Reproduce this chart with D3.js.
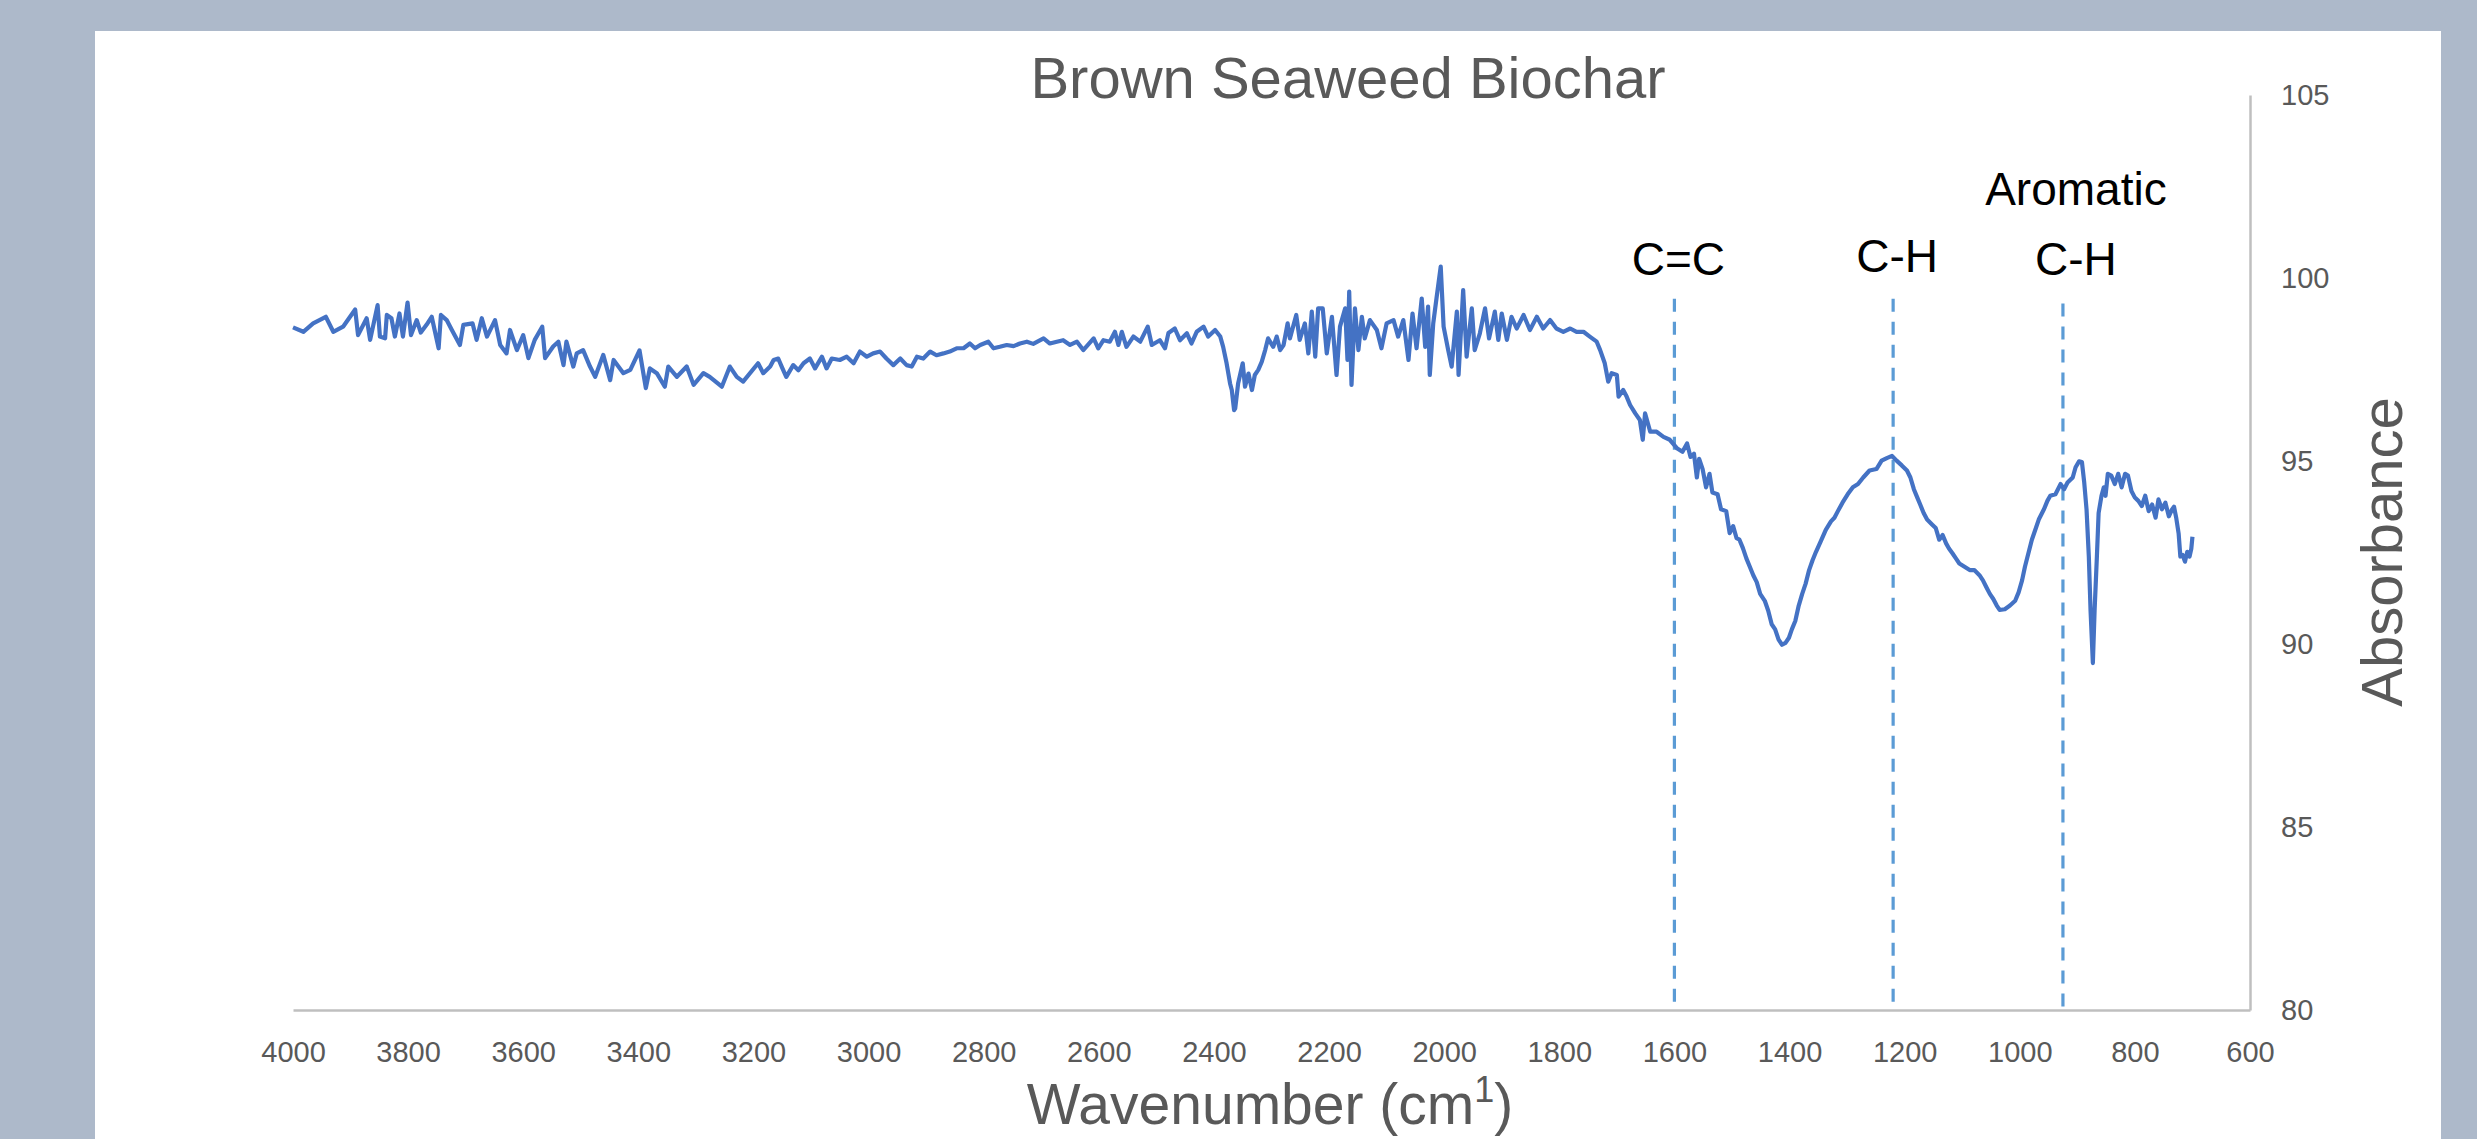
<!DOCTYPE html>
<html>
<head>
<meta charset="utf-8">
<script src="https://cdn.jsdelivr.net/npm/d3@7"></script>
<style>
    body { margin: 0; background: #adb9ca; }
    svg { display: block; }
</style>
</head>
<body>
<script>
// FTIR spectrum (wavenumber cm-1 / absorbance)
const wavenumber = [
    // 4000 - 3170
    4000, 3982, 3965, 3943, 3930, 3913, 3892, 3887, 3872, 3866, 3853, 3849, 3840, 3837, 3829, 3823,
    3815, 3809, 3801, 3795, 3785, 3778, 3768, 3759, 3747, 3743, 3733, 3724, 3710, 3704, 3688, 3681,
    3672, 3663, 3649, 3640, 3629, 3623, 3611, 3600, 3591, 3580, 3567, 3562, 3548, 3539, 3530, 3525,
    3513, 3507, 3496, 3484, 3475, 3461, 3449, 3443, 3426, 3414, 3398, 3387, 3380, 3368, 3354, 3348,
    3333, 3316, 3304, 3287, 3276, 3255, 3241, 3229, 3218, 3192, 3183, 3171,
    // 3165 - 2365
    3165, 3157, 3151, 3143, 3131, 3122, 3113, 3102, 3093, 3081, 3073, 3064, 3050, 3038, 3026, 3015,
    3003, 2992, 2980, 2969, 2957, 2945, 2934, 2925, 2916, 2905, 2893, 2882, 2870, 2859, 2847, 2835,
    2824, 2815, 2806, 2792, 2783, 2772, 2760, 2748, 2737, 2725, 2714, 2696, 2685, 2673, 2662, 2650,
    2638, 2627, 2609, 2601, 2592, 2581, 2572, 2566, 2560, 2552, 2540, 2528, 2515, 2508, 2494, 2485,
    2479, 2468, 2459, 2447, 2439, 2430, 2418, 2410, 2398, 2389, 2384, 2378, 2372, 2369, 2365,
    // 2363 - 1608
    2363, 2358, 2350, 2346, 2340, 2334, 2329, 2323, 2317, 2311, 2306, 2297, 2291, 2285, 2279, 2272,
    2268, 2257, 2251, 2242, 2236, 2230, 2224, 2219, 2211, 2204, 2195, 2187, 2181, 2172, 2168, 2165,
    2161, 2155, 2149, 2143, 2138, 2129, 2117, 2109, 2100, 2088, 2080, 2071, 2062, 2055, 2048, 2039,
    2033, 2028, 2025, 2019, 2013, 2006, 2001, 1993, 1987, 1978, 1975, 1967, 1961, 1952, 1947, 1938,
    1929, 1922, 1912, 1906, 1900, 1891, 1883, 1874, 1862, 1851, 1839, 1828, 1816, 1805, 1793, 1781,
    1770, 1758, 1747, 1735, 1729, 1721, 1715, 1709, 1700, 1697, 1689, 1683, 1677, 1668, 1660, 1655,
    1651, 1642, 1631, 1619, 1608,
    // 1595 - 741
    1595, 1586, 1578, 1572, 1566, 1561, 1557, 1551, 1545, 1539, 1534, 1525, 1519, 1510, 1504, 1498,
    1492, 1487, 1481, 1475, 1469, 1463, 1457, 1451, 1443, 1437, 1431, 1425, 1419, 1413, 1407, 1401,
    1396, 1390, 1384, 1378, 1372, 1366, 1360, 1354, 1346, 1337, 1328, 1322, 1316, 1308, 1299, 1290,
    1281, 1272, 1261, 1249, 1240, 1231, 1222, 1214, 1205, 1196, 1190, 1184, 1178, 1173, 1167, 1161,
    1152, 1146, 1140, 1134, 1128, 1123, 1117, 1111, 1105, 1096, 1087, 1079, 1070, 1064, 1058, 1052,
    1046, 1040, 1035, 1026, 1017, 1008, 1002, 996, 991, 985, 979, 973, 967, 958, 952, 947,
    938, 929, 923, 917, 908, 903, 897, 892, 888, 884, 880, 877, 873, 870, 866, 863,
    858, 854, 851, 847, 841, 835, 829, 823, 817, 812, 806, 800, 794, 788, 782, 776,
    770, 764, 759, 753, 747, 741,
    // 736 - 700
    736, 732, 728, 724, 721, 717, 713, 709, 705, 702, 700
];

const absorbance = [
    98.65, 98.53, 98.76, 98.94, 98.53, 98.67, 99.14, 98.44, 98.90, 98.31, 99.26, 98.40, 98.35, 98.99, 98.90, 98.40,
    99.03, 98.40, 99.33, 98.44, 98.85, 98.51, 98.72, 98.94, 98.08, 98.99, 98.85, 98.58, 98.17, 98.72, 98.76, 98.31,
    98.90, 98.40, 98.85, 98.17, 97.94, 98.58, 98.03, 98.44, 97.81, 98.31, 98.67, 97.81, 98.13, 98.26, 97.62, 98.26,
    97.58, 97.94, 98.03, 97.58, 97.30, 97.90, 97.21, 97.76, 97.40, 97.49, 98.02, 96.99, 97.53, 97.40, 97.03, 97.58,
    97.30, 97.58, 97.08, 97.40, 97.30, 97.03, 97.58, 97.30, 97.17, 97.67, 97.40, 97.58,

    97.76, 97.80, 97.58, 97.30, 97.62, 97.48, 97.67, 97.80, 97.53, 97.85, 97.53, 97.80, 97.76, 97.85, 97.67, 97.99,
    97.85, 97.94, 97.99, 97.80, 97.62, 97.80, 97.62, 97.58, 97.85, 97.80, 97.99, 97.89, 97.94, 97.99, 98.08, 98.08,
    98.21, 98.08, 98.17, 98.26, 98.08, 98.12, 98.17, 98.14, 98.21, 98.26, 98.20, 98.35, 98.21, 98.26, 98.30, 98.17,
    98.26, 98.03, 98.35, 98.08, 98.30, 98.26, 98.53, 98.17, 98.53, 98.12, 98.40, 98.26, 98.67, 98.17, 98.30, 98.08,
    98.50, 98.62, 98.30, 98.49, 98.21, 98.53, 98.67, 98.40, 98.58, 98.40, 98.12, 97.67, 97.12, 96.94, 96.39,

    96.44, 97.12, 97.67, 97.03, 97.39, 96.94, 97.35, 97.49, 97.71, 98.03, 98.35, 98.12, 98.40, 98.03, 98.17, 98.76,
    98.35, 98.99, 98.31, 98.76, 97.94, 99.08, 97.85, 99.17, 99.17, 97.94, 98.94, 97.35, 98.67, 99.17, 97.76, 99.63,
    97.08, 99.17, 98.03, 98.94, 98.35, 98.85, 98.58, 98.08, 98.76, 98.85, 98.40, 98.85, 97.76, 99.03, 98.08, 99.44,
    98.12, 99.22, 97.35, 98.76, 99.49, 100.31, 98.67, 98.03, 97.58, 99.08, 97.35, 99.67, 97.85, 99.17, 98.03, 98.49,
    99.17, 98.35, 99.08, 98.31, 99.03, 98.31, 98.94, 98.62, 98.99, 98.58, 98.94, 98.62, 98.85, 98.62, 98.53, 98.62,
    98.53, 98.53, 98.40, 98.26, 98.03, 97.67, 97.17, 97.40, 97.35, 96.76, 96.94, 96.76, 96.53, 96.30, 96.12, 95.58,
    96.30, 95.80, 95.80, 95.66, 95.58,

    95.34, 95.25, 95.48, 95.11, 95.20, 94.55, 95.06, 94.78, 94.28, 94.65, 94.14, 94.09, 93.68, 93.63, 93.03, 93.22,
    92.89, 92.85, 92.62, 92.34, 92.11, 91.88, 91.69, 91.37, 91.18, 90.91, 90.54, 90.40, 90.12, 89.98, 90.03, 90.17,
    90.40, 90.63, 91.05, 91.37, 91.65, 92.02, 92.29, 92.52, 92.80, 93.12, 93.35, 93.45, 93.63, 93.86, 94.09, 94.28,
    94.37, 94.55, 94.74, 94.78, 95.01, 95.08, 95.14, 95.01, 94.88, 94.74, 94.55, 94.23, 94.00, 93.81, 93.58, 93.40,
    93.26, 93.17, 92.85, 92.98, 92.75, 92.61, 92.48, 92.34, 92.20, 92.11, 92.02, 92.02, 91.88, 91.74, 91.55, 91.37,
    91.23, 91.05, 90.93, 90.95, 91.05, 91.18, 91.41, 91.74, 92.11, 92.48, 92.85, 93.12, 93.40, 93.68, 93.91, 94.05,
    94.09, 94.37, 94.23, 94.41, 94.55, 94.83, 94.99, 94.97, 94.41, 93.68, 92.39, 90.91, 89.48, 90.91, 92.39, 93.58,
    94.05, 94.28, 94.05, 94.65, 94.60, 94.37, 94.65, 94.28, 94.65, 94.60, 94.18, 94.00, 93.91, 93.77, 94.05, 93.63,
    93.81, 93.45, 93.95, 93.68, 93.86, 93.49,

    93.66, 93.75, 93.43, 93.02, 92.39, 92.43, 92.25, 92.52, 92.39, 92.60, 92.93
];

// dashed marker lines and their labels
const markerWavenumber = [1600, 1220, 925];
const markerLabel = [['C=C'], ['C-H'], ['Aromatic', 'C-H']];

const xTicks = d3.range(4000, 599, -200);
const yTicks = [80, 85, 90, 95, 100, 105];

const title = 'Brown Seaweed Biochar';
const yTitle = 'Absorbance';

const font = "'Liberation Sans', Arial, sans-serif";
const grey = '#595959';

const data = wavenumber.map((w, i) => ({ w: w, a: absorbance[i] }));

const svg = d3.select('body')
    .append('svg')
    .attr('width', 2477)
    .attr('height', 1139);

// white chart area
svg.append('rect')
    .attr('x', 95)
    .attr('y', 31)
    .attr('width', 2346)
    .attr('height', 1108)
    .attr('fill', '#ffffff');

const x = d3.scaleLinear().domain([4000, 600]).range([293, 2250]);
const y = d3.scaleLinear().domain([80, 105]).range([1010, 95]);

//x axis
const xAxis = svg.append('g')
    .attr('transform', 'translate(0,' + y(80) + ')')
    .call(d3.axisBottom(x).tickValues(xTicks).tickSize(0).tickPadding(31).tickFormat(d3.format('d')));

//y axis (right side)
const yAxis = svg.append('g')
    .attr('transform', 'translate(' + x(600) + ',0)')
    .call(d3.axisRight(y).tickValues(yTicks).tickSize(0).tickPadding(31));

[xAxis, yAxis].forEach(g => {
    g.attr('font-family', font).attr('font-size', 29);
    g.select('.domain').attr('stroke', '#bfbfbf').attr('stroke-width', 2.5);
    g.selectAll('text').attr('fill', grey);
});

// dashed lines
const markerTop = [99.43, 99.43, 99.3];
svg.selectAll('line.marker')
    .data(markerWavenumber)
    .enter()
    .append('line')
    .attr('class', 'marker')
    .attr('x1', d => x(d))
    .attr('x2', d => x(d))
    .attr('y1', (d, i) => y(markerTop[i]))
    .attr('y2', y(80))
    .attr('stroke', '#5b9bd5')
    .attr('stroke-width', 3.2)
    .attr('stroke-dasharray', '13,10');

// spectrum
const line = d3.line()
    .x(d => x(d.w))
    .y(d => y(d.a));

svg.append('path')
    .datum(data)
    .attr('d', line)
    .attr('fill', 'none')
    .attr('stroke', '#4472c4')
    .attr('stroke-width', 4.2)
    .attr('stroke-linejoin', 'round');

// labels over the dashed lines
const labelShift = [4, 4, 13];
const labelBase = [275, 272, 275];
markerLabel.forEach((lines, i) => {
    const t = svg.append('text')
        .attr('font-family', font)
        .attr('font-size', 46)
        .attr('fill', '#000000')
        .attr('text-anchor', 'middle');
    lines.forEach((s, j) => {
        t.append('tspan')
            .attr('x', x(markerWavenumber[i]) + labelShift[i])
            .attr('y', labelBase[i] - (lines.length - 1 - j) * 70)
            .text(s);
    });
});

// titles
svg.append('text')
    .attr('x', 1348)
    .attr('y', 98)
    .attr('text-anchor', 'middle')
    .attr('font-family', font)
    .attr('font-size', 58)
    .attr('fill', grey)
    .text(title);

const xt = svg.append('text')
    .attr('x', 1270)
    .attr('y', 1124)
    .attr('text-anchor', 'middle')
    .attr('font-family', font)
    .attr('font-size', 57)
    .attr('fill', grey);
xt.append('tspan').text('Wavenumber (cm');
xt.append('tspan').attr('font-size', 36).attr('dy', -22).text('1');
xt.append('tspan').attr('dy', 22).text(')');

svg.append('text')
    .attr('transform', 'translate(2402,552) rotate(-90)')
    .attr('text-anchor', 'middle')
    .attr('font-family', font)
    .attr('font-size', 58)
    .attr('fill', grey)
    .text(yTitle);
</script>
</body>
</html>
